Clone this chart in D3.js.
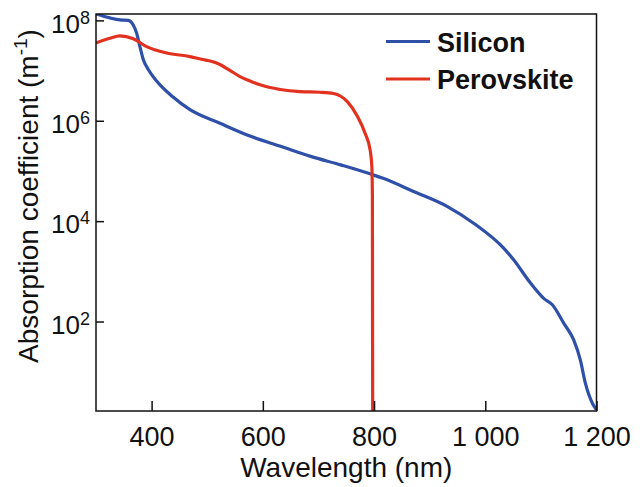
<!DOCTYPE html>
<html><head><meta charset="utf-8">
<script src="https://cdn.jsdelivr.net/npm/d3@7"></script>
<style>body{margin:0;background:#fff}svg{display:block}text{font-family:"Liberation Sans",Arial,sans-serif}</style>
</head><body><svg id="c" width="643" height="487"></svg>
<script>
// ---- data ----
const siliconWavelength = [300,325,343,358,367,373,379,385,394,409,438,469,523,578,632,686,740,799,815,871,932,979,1033,1051,1081,1105,1121,1141,1159,1171,1180,1193,1200];
const siliconAlpha = [1.35e8,1.12e8,1.02e8,1.0e8,8.1e7,5.6e7,3.0e7,1.66e7,1.05e7,6.2e6,3.0e6,1.66e6,8.9e5,4.9e5,3.1e5,1.95e5,1.32e5,8.3e4,7.2e4,3.9e4,1.95e4,9.1e3,2.9e3,1.7e3,590,290,214,93,43,17,5.9,2.3,1.74];
const perovskiteWavelength = [300,325,343,367,391,427,469,492,507,523,540,559,577,595,631,667,703,727,752,770,784,793,796,797,797.3,797.6];
const perovskiteAlpha = [3.55e7,4.4e7,4.9e7,4.3e7,3.0e7,2.24e7,1.9e7,1.66e7,1.53e7,1.32e7,1.02e7,7.6e6,6.2e6,5.2e6,4.2e6,3.8e6,3.7e6,3.5e6,2.4e6,1.23e6,5.6e5,2.6e5,1.23e5,3.2e4,100,0.5];
const xTicks = [400,600,800,1000,1200];
const yTickExponents = [2,4,6,8];
const seriesNames = ["Silicon","Perovskite"];
const seriesColors = ["#2f50a8","#e2311f"];

// ---- layout ----
const L=96, R=596.5, T=14, B=411;
const svg = d3.select("#c");
const x = d3.scaleLinear().domain([300,1200]).range([L,R]);
const y = d3.scaleLog().domain([1.65,1.34e8]).range([B,T]);
const fmt = d3.formatLocale({decimal:".",thousands:" ",grouping:[3],currency:["",""]}).format(",");

svg.append("defs").append("clipPath").attr("id","clip")
  .append("rect").attr("x",L).attr("y",T).attr("width",R-L).attr("height",B-T);

const line = d3.line().x(d=>x(d[0])).y(d=>y(d[1])).curve(d3.curveMonotoneX);
const series = [
  d3.zip(siliconWavelength, siliconAlpha),
  d3.zip(perovskiteWavelength, perovskiteAlpha)
];
const g = svg.append("g").attr("clip-path","url(#clip)");
series.forEach((s,i)=>{
  g.append("path").datum(s).attr("d",line).attr("fill","none")
   .attr("stroke",seriesColors[i]).attr("stroke-width",3.2).attr("stroke-linejoin","round");
});

// x axis
const xa = svg.append("g").attr("transform",`translate(0,${B})`)
  .call(d3.axisBottom(x).tickValues(xTicks).tickSizeInner(-10).tickSizeOuter(0).tickPadding(16).tickFormat(fmt));
xa.select(".domain").remove();
xa.selectAll(".tick line").attr("stroke","#111").attr("stroke-width",1.5);
xa.selectAll(".tick text").attr("font-size",27).attr("fill","#111").attr("font-family","Liberation Sans, Arial, sans-serif");

// y axis
const ya = svg.append("g").attr("transform",`translate(${L},0)`)
  .call(d3.axisLeft(y).tickValues(yTickExponents.map(e=>Math.pow(10,e))).tickSizeInner(-8).tickSizeOuter(0).tickFormat(""));
ya.select(".domain").remove();
ya.selectAll(".tick line").attr("stroke","#111").attr("stroke-width",1.5);
ya.selectAll(".tick").each(function(d,i){
  const t = d3.select(this).append("text").attr("x",-6).attr("dy","0.45em")
    .attr("text-anchor","end").attr("fill","#111").attr("font-size",26);
  t.append("tspan").text("10");
  t.append("tspan").attr("font-size",18).attr("dy","-0.5em").text(yTickExponents[i]);
});

// frame
svg.append("rect").attr("x",L).attr("y",T).attr("width",R-L).attr("height",B-T)
  .attr("fill","none").attr("stroke","#111").attr("stroke-width",1.5);

// axis titles
svg.append("text").attr("x",(L+R)/2).attr("y",477).attr("text-anchor","middle")
  .attr("font-size",28).attr("fill","#111").text("Wavelength (nm)");
const yt = svg.append("text").attr("transform",`translate(38,196) rotate(-90)`)
  .attr("text-anchor","middle").attr("font-size",28).attr("fill","#111");
yt.append("tspan").text("Absorption coefficient (m");
yt.append("tspan").attr("font-size",19).attr("dy","-0.6em").text("-1");
yt.append("tspan").attr("dy","0.4em").text(")");

// legend
const leg = svg.append("g");
seriesNames.forEach((n,i)=>{
  const yy = 41.5 + i*37.5;
  leg.append("line").attr("x1",386).attr("x2",430).attr("y1",yy).attr("y2",yy)
    .attr("stroke",seriesColors[i]).attr("stroke-width",3.2);
  leg.append("text").attr("x",437).attr("y",yy+10).attr("font-size",27).attr("font-weight","bold")
    .attr("fill","#111").text(n);
});
</script></body></html>
